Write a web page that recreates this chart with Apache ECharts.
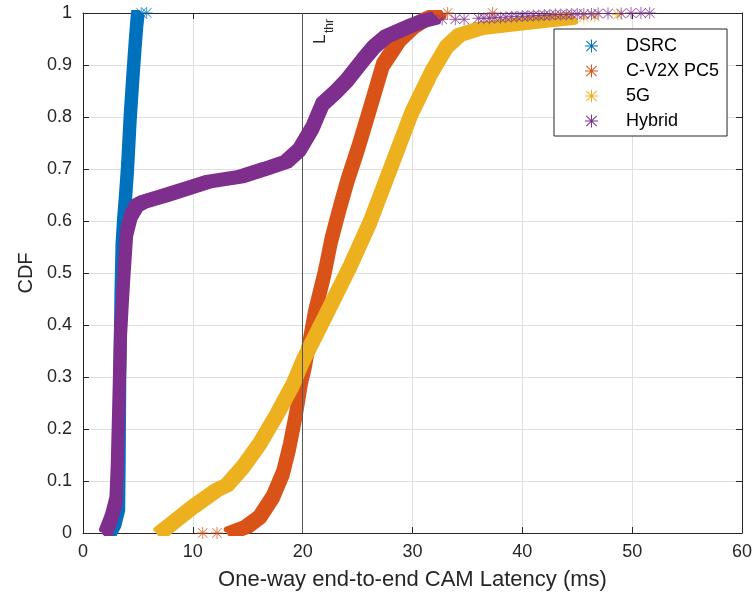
<!DOCTYPE html>
<html><head><meta charset="utf-8">
<script src="https://cdn.jsdelivr.net/npm/echarts@6/dist/echarts.min.js"></script>
<style>html,body{margin:0;padding:0;background:#fff}#c{width:755px;height:601px}</style>
</head><body><div id="c"></div>
<script>
// ---- data ----
const seriesNames = ['DSRC', 'C-V2X PC5', '5G', 'Hybrid'];
const seriesColors = ['#0072BD', '#D95319', '#EDB120', '#7E2F8E'];

const dsrcCurve = [[2.4,0],[2.9,0.02],[3.25,0.05],[3.3,0.15],[3.35,0.3],[3.45,0.45],[3.55,0.55],[3.7,0.6],[3.85,0.64],[4.05,0.7],[4.3,0.8],[4.55,0.88],[4.75,0.94],[4.9,0.98],[5.0,1.0]];
const dsrcTail = [[5.3,1.0],[5.8,1.0]];

const cv2xCurve = [[13.4,0],[14.9,0.012],[16.1,0.031],[17.3,0.07],[18.2,0.115],[18.8,0.166],[19.4,0.23],[19.9,0.294],[20.2,0.32],[21.1,0.423],[22.0,0.5],[22.6,0.563],[23.4,0.627],[24.1,0.679],[25.0,0.737],[25.9,0.8],[27.3,0.9],[28.8,0.948],[30.0,0.972],[31.1,0.987],[32.5,1.0]];
const cv2xTail = [[10.9,0],[12.2,0],[33.2,1.0],[37.3,1.0]];

const g5Curve = [[7.0,0],[8.5,0.025],[10.0,0.05],[12.2,0.083],[13.1,0.092],[14.6,0.128],[16.1,0.172],[17.6,0.226],[19.1,0.285],[20.0,0.33],[22.2,0.423],[24.3,0.512],[26.1,0.596],[27.6,0.679],[29.9,0.807],[31.7,0.885],[33.1,0.935],[34.3,0.958],[36.1,0.970],[38.5,0.976],[41.5,0.983],[44.5,0.99]];
const g5Tail = [[45.6,0.992],[46.6,0.994],[48.7,0.997]];

const hybridCurve = [[2.05,0],[2.6,0.03],[3.0,0.063],[3.12,0.127],[3.27,0.256],[3.42,0.385],[3.58,0.448],[3.76,0.51],[3.97,0.577],[4.36,0.61],[4.9,0.63],[5.5,0.637],[7.6,0.65],[10.0,0.666],[11.5,0.676],[14.3,0.685],[16.7,0.701],[18.5,0.714],[19.7,0.737],[20.9,0.78],[21.8,0.825],[23.0,0.848],[24.0,0.87],[25.5,0.91],[26.5,0.935],[27.6,0.955],[29.0,0.968],[30.0,0.977],[31.0,0.985],[32.0,0.99]];
const hybridTail = [[32.7,0.988],[33.9,0.988],[34.7,0.988],[36.0,0.99],[36.5,0.99],[37.0,0.99],[37.5,0.991],[38.0,0.991],[38.5,0.992],[39.0,0.993],[39.5,0.993],[40.0,0.994],[40.5,0.994],[41.0,0.995],[41.5,0.995],[42.0,0.996],[42.5,0.996],[43.0,0.997],[43.5,0.997],[44.0,0.997],[44.5,0.998],[45.0,0.998],[45.6,0.998],[46.3,0.998],[46.9,0.999],[47.8,0.999],[49.0,0.999],[49.9,1.0],[50.8,1.0],[51.6,1.0]];

const curves = [dsrcCurve, cv2xCurve, g5Curve, hybridCurve];
const tails = [dsrcTail, cv2xTail, g5Tail, hybridTail];

const xMin = 0, xMax = 60, xStep = 10;
const yMin = 0, yMax = 1, yStep = 0.1;
const LTHR = 20;
const xTitle = 'One-way end-to-end CAM Latency (ms)';
const yTitle = 'CDF';

// ---- drawing ----
const FONT = '"Liberation Sans", Arial, Helvetica, sans-serif';
const AXC = '#262626';
const AST = 'path://M9.25 0h1.5v20h-1.5z M0 9.25h20v1.5h-20z M1.5 2.56L2.56 1.5L18.5 17.44L17.44 18.5z M17.44 1.5L18.5 2.56L2.56 18.5L1.5 17.44z';
const BAND_W = 6, BAND_D = 3.5;   // thin stroke + diagonal shadow copies ~ dense asterisk band

const chart = echarts.init(document.getElementById('c'), null, {renderer: 'canvas'});

function baseAxis(extra) {
  return Object.assign({
    type: 'value',
    axisLine: {show: true, onZero: false, lineStyle: {color: AXC, width: 1}},
    axisTick: {show: true, inside: true, length: 6, lineStyle: {color: AXC}},
    axisLabel: {show: false},
    splitLine: {show: false}
  }, extra);
}

const series = [];
curves.forEach((c, i) => {
  [1, -1].forEach((sgn, k) => {
    series.push({
      type: 'line', name: k === 0 ? seriesNames[i] : seriesNames[i] + ' band', data: c,
      xAxisIndex: 0, yAxisIndex: 0,
      showSymbol: false, symbol: 'none', smooth: false, z: 2 + i,
      lineStyle: {width: BAND_W, color: seriesColors[i], cap: 'round', join: 'round',
        shadowColor: seriesColors[i], shadowBlur: 0,
        shadowOffsetX: sgn * BAND_D, shadowOffsetY: sgn * BAND_D},
      itemStyle: {color: seriesColors[i]}, animation: false, silent: true
    });
  });
});
tails.forEach((t, i) => {
  series.push({
    type: 'scatter', name: seriesNames[i] + ' tail', data: t, xAxisIndex: 0, yAxisIndex: 0,
    symbol: AST, symbolSize: 12, z: 2 + i,
    itemStyle: {color: seriesColors[i]}, animation: false, silent: true
  });
});
series.push({
  type: 'line', name: 'Lthr', data: [], xAxisIndex: 0, yAxisIndex: 0, z: 10,
  markLine: {silent: true, symbol: 'none', animation: false,
    lineStyle: {color: '#555555', width: 1, type: 'solid'},
    label: {show: false}, data: [{xAxis: LTHR}]}
});

chart.setOption({
  animation: false,
  backgroundColor: '#ffffff',
  textStyle: {fontFamily: FONT},
  grid: {left: 83, right: 12, top: 13, bottom: 68, containLabel: false},
  xAxis: [
    baseAxis({position: 'bottom', min: xMin, max: xMax, interval: xStep,
      axisLabel: {show: true, fontSize: 18, color: AXC, margin: 10, fontFamily: FONT},
      splitLine: {show: true, lineStyle: {color: '#dfdfdf', width: 1}},
      name: xTitle, nameLocation: 'middle', nameGap: 36,
      nameTextStyle: {fontSize: 22, color: AXC, fontFamily: FONT}}),
    baseAxis({position: 'top', min: xMin, max: xMax, interval: xStep})
  ],
  yAxis: [
    baseAxis({position: 'left', min: yMin, max: yMax, interval: yStep,
      axisLabel: {show: true, fontSize: 18, color: AXC, margin: 11, fontFamily: FONT,
        formatter: v => String(+v.toFixed(1))},
      splitLine: {show: true, lineStyle: {color: '#dfdfdf', width: 1}},
      name: yTitle, nameLocation: 'middle', nameGap: 45,
      nameTextStyle: {fontSize: 20, color: AXC, fontFamily: FONT}}),
    baseAxis({position: 'right', min: yMin, max: yMax, interval: yStep})
  ],
  legend: {
    data: seriesNames, orient: 'vertical', left: 554, top: 29,
    icon: AST, itemWidth: 13, itemHeight: 13, itemGap: 7,
    padding: [8, 8, 6, 31],
    backgroundColor: '#ffffff', borderColor: AXC, borderWidth: 1, borderRadius: 0,
    textStyle: {fontSize: 18, color: '#000', fontFamily: FONT, padding: [0, 0, 0, 23]},
    selectedMode: false
  },
  series: series
});

// L_thr annotation next to the threshold line
const p = chart.convertToPixel({gridIndex: 0}, [LTHR, yMax]);
chart.setOption({
  graphic: [
    {type: 'text', x: p[0] + 26, y: p[1] + 31, rotation: Math.PI / 2, z: 100,
      style: {text: 'L', font: '17px ' + FONT, fill: AXC, align: 'left', verticalAlign: 'bottom'}},
    {type: 'text', x: p[0] + 33, y: p[1] + 20, rotation: Math.PI / 2, z: 100,
      style: {text: 'thr', font: '12px ' + FONT, fill: AXC, align: 'left', verticalAlign: 'bottom'}}
  ]
});
</script>
</body></html>
